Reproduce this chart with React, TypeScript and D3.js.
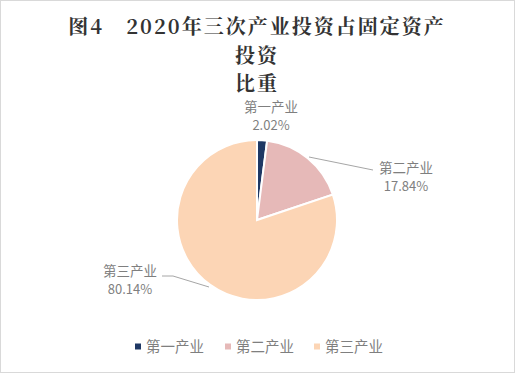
import React, { useEffect, useRef } from "react";
import * as d3 from "d3";

const categories = ["第一产业", "第二产业", "第三产业"];
const shares = [2.02, 17.84, 80.14];
const colors = ["#1F3864", "#E6B9B8", "#FCD5B5"];
const titleLines = ["图4　2020年三次产业投资占固定资产", "投资", "比重"];

// label anchor positions, leader lines
const labelPos = [
  { x: 271, y: 112, line: null as null | number[][] },
  { x: 406, y: 173, line: [[309, 157], [373, 170]] },
  { x: 130, y: 276, line: [[162, 276], [173, 276], [209, 287]] },
];

const App = () => {
  const ref = useRef<SVGSVGElement>(null);

  useEffect(() => {
    const svg = d3.select(ref.current);
    svg.selectAll("*").remove();
    const W = 515, H = 373;

    svg.append("rect").attr("x", 0.5).attr("y", 0.5).attr("width", W - 1).attr("height", H - 1)
      .attr("fill", "#fff").attr("stroke", "#d9d9d9");

    // Title
    svg.selectAll("text.title")
      .data(titleLines)
      .enter()
      .append("text")
      .attr("class", "title")
      .attr("x", 257)
      .attr("y", (d, i) => 34 + i * 28.5)
      .attr("text-anchor", "middle")
      .style("font-family", "'Noto Serif CJK SC', 'Noto Sans CJK SC', serif")
      .style("font-weight", "bold")
      .style("font-size", "20px")
      .style("letter-spacing", "2px")
      .style("fill", "#333")
      .text((d) => d);

    // Pie
    const cx = 257, cy = 220, r = 80;
    const data = categories.map((c, i) => ({ name: c, value: shares[i], color: colors[i] }));
    const pie = d3.pie<any>().value((d) => d.value).sort(null);
    const arc = d3.arc<any>().innerRadius(0).outerRadius(r);
    const g = svg.append("g").attr("transform", `translate(${cx},${cy})`);
    g.selectAll("path")
      .data(pie(data))
      .enter()
      .append("path")
      .attr("d", arc)
      .attr("fill", (d) => d.data.color)
      .style("stroke", "#fff")
      .style("stroke-width", "2px");

    // Data labels
    const font = "'Microsoft YaHei', 'Noto Sans CJK SC', sans-serif";
    labelPos.forEach((p, i) => {
      if (p.line) {
        svg.append("path")
          .attr("d", d3.line()(p.line as any))
          .attr("fill", "none")
          .attr("stroke", "#a6a6a6")
          .attr("stroke-width", 1);
      }
      svg.append("text")
        .attr("x", p.x).attr("y", p.y)
        .attr("text-anchor", "middle")
        .style("font-family", font).style("font-size", "13.5px").style("fill", "#7f7f7f")
        .text(categories[i]);
      svg.append("text")
        .attr("x", p.x).attr("y", p.y + 18)
        .attr("text-anchor", "middle")
        .style("font-family", font).style("font-size", "13px").style("fill", "#7f7f7f")
        .text(shares[i].toFixed(2) + "%");
    });

    // Legend
    const legendX = [135, 225, 314];
    const lg = svg.selectAll("g.legend")
      .data(data)
      .enter()
      .append("g")
      .attr("class", "legend")
      .attr("transform", (d, i) => `translate(${legendX[i]},347)`);
    lg.append("rect").attr("x", 0).attr("y", -3.5).attr("width", 6).attr("height", 6)
      .attr("fill", (d) => d.color);
    lg.append("text").attr("x", 11).attr("y", 5)
      .style("font-family", font).style("font-size", "14.5px").style("fill", "#7f7f7f")
      .text((d) => d.name);
  }, []);

  return <svg ref={ref} width={515} height={373} style={{ position: "absolute", left: 0, top: 0 }} />;
};

export default App;
